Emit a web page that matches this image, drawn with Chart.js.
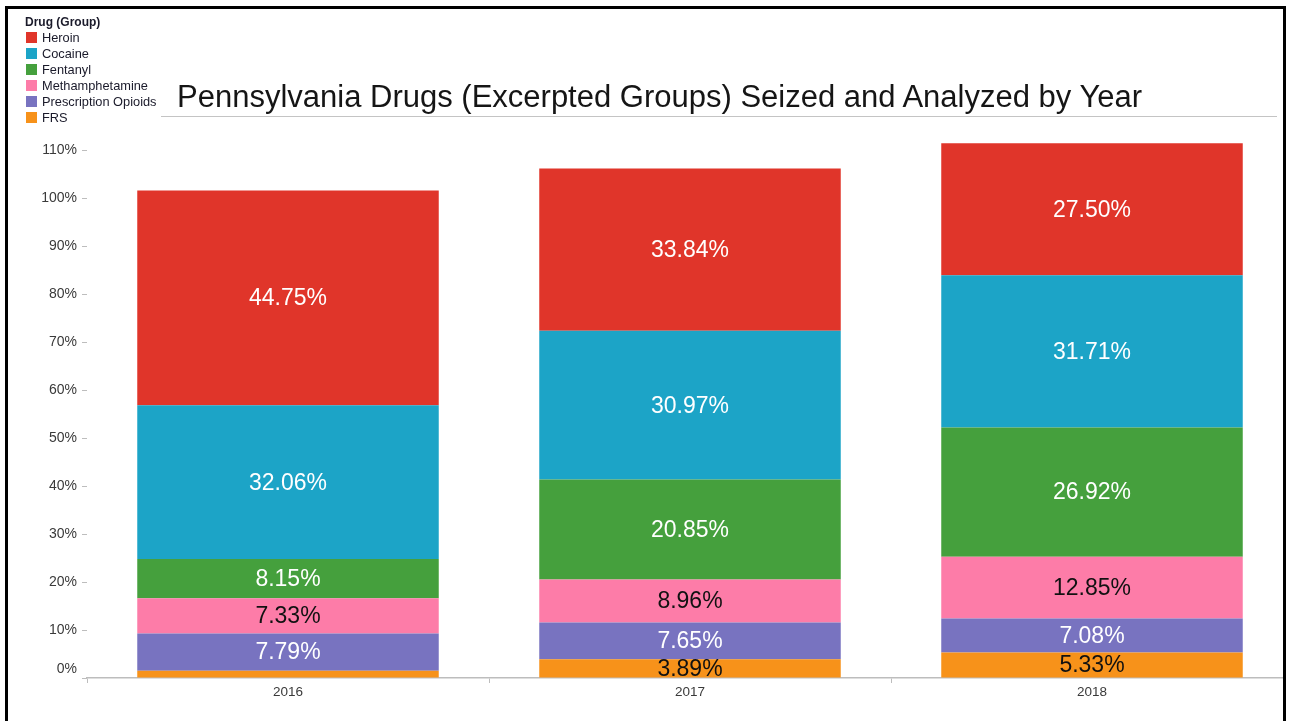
<!DOCTYPE html>
<html>
<head>
<meta charset="utf-8">
<script src="https://cdn.jsdelivr.net/npm/chart.js@4/dist/chart.umd.min.js"></script>
<style>
    html, body { margin: 0; padding: 0; background: #fff; overflow: hidden; width: 1291px; height: 721px; }
    body { position: relative; font-family: "Liberation Sans", Arial, sans-serif; }
    #frame {
        position: absolute; left: 5px; top: 6px; width: 1281px; height: 800px;
        box-sizing: border-box; border: 3px solid #000; border-bottom: none; overflow: hidden;
    }
    #chartBox { position: absolute; left: 0; top: 0; width: 1300px; height: 712px; }
    #title {
        position: absolute; left: 177px; top: 81px; font-size: 31px; line-height: 31px;
        color: #151515; white-space: nowrap;
    }
    #titleRule { position: absolute; left: 161px; top: 116px; width: 1116px; height: 1px; background: #c4c4c4; }
    #legend { position: absolute; left: 26px; top: 14px; color: #1a1a2a; }
    #legend .head { font-weight: bold; font-size: 12px; height: 16px; line-height: 16px; margin-left: -1px; }
    #legend .item { font-size: 12.8px; height: 16px; line-height: 16px; white-space: nowrap; }
    #legend .sw { display: inline-block; width: 11px; height: 11px; vertical-align: -1px; margin-right: 5px; }
</style>
</head>
<body>
<div id="frame">
    <div id="chartBox"><canvas id="drugChart" width="1300" height="712"></canvas></div>
</div>
<div id="title">Pennsylvania Drugs (Excerpted Groups) Seized and Analyzed by Year</div>
<div id="titleRule"></div>
<div id="legend"></div>

<script>
// Data (percent of drugs analyzed, by year)
const years = ['2016', '2017', '2018'];
const drugGroups = ['Heroin', 'Cocaine', 'Fentanyl', 'Methamphetamine', 'Prescription Opioids', 'FRS'];
const heroin = [44.75, 33.84, 27.50];
const cocaine = [32.06, 30.97, 31.71];
const fentanyl = [8.15, 20.85, 26.92];
const methamphetamine = [7.33, 8.96, 12.85];
const prescriptionOpioids = [7.79, 7.65, 7.08];
const frs = [1.5, 3.89, 5.33];
const yTickValues = [0, 10, 20, 30, 40, 50, 60, 70, 80, 90, 100, 110];

const groupColors = ['#e0352a', '#1ca4c7', '#45a03d', '#fd7ca8', '#7873c0', '#f7921a'];
const labelColors = ['#ffffff', '#ffffff', '#ffffff', '#111111', '#ffffff', '#111111'];
const groupValues = [heroin, cocaine, fentanyl, methamphetamine, prescriptionOpioids, frs];

// Legend (top to bottom, same order as the groups)
const legendEl = document.getElementById('legend');
legendEl.innerHTML = '<div class="head">Drug (Group)</div>' + drugGroups.map((g, i) =>
    '<div class="item"><span class="sw" style="background:' + groupColors[i] + '"></span>' + g + '</div>'
).join('');

// Stacked bottom-up: FRS first, Heroin last
const datasets = drugGroups.map((g, i) => ({
    label: g,
    data: groupValues[i],
    backgroundColor: groupColors[i],
    labelColor: labelColors[i],
    borderWidth: 0,
    categoryPercentage: 1.0,
    barPercentage: 0.75
})).reverse();

// Value labels in the middle of each segment
const segmentLabels = {
    id: 'segmentLabels',
    afterDatasetsDraw(chart) {
        const ctx = chart.ctx;
        ctx.save();
        ctx.font = '23px "Liberation Sans", Arial, sans-serif';
        ctx.textAlign = 'center';
        ctx.textBaseline = 'middle';
        chart.data.datasets.forEach((ds, di) => {
            const meta = chart.getDatasetMeta(di);
            meta.data.forEach((bar, i) => {
                const v = ds.data[i];
                if (v < 2) return;
                ctx.fillStyle = ds.labelColor;
                ctx.fillText(v.toFixed(2) + '%', bar.x, (bar.y + bar.base) / 2 + 1);
            });
        });
        ctx.restore();
    }
};

const axisGray = '#bdbdbd';
const tickText = '#3a3a3a';

new Chart(document.getElementById('drugChart'), {
    type: 'bar',
    data: { labels: years, datasets: datasets },
    plugins: [segmentLabels],
    options: {
        responsive: false,
        animation: false,
        layout: { padding: { top: 117, right: 15, left: 0, bottom: 0 } },
        plugins: {
            legend: { display: false },
            title: { display: false },
            tooltip: { enabled: false }
        },
        scales: {
            x: {
                stacked: true,
                afterFit(scale) { scale.height = 43; },
                grid: {
                    offset: true,
                    drawOnChartArea: false,
                    drawTicks: true,
                    tickLength: 5,
                    color: axisGray
                },
                border: { display: true, color: axisGray, width: 1.5 },
                ticks: {
                    color: tickText,
                    padding: 1,
                    font: { family: '"Liberation Sans", Arial, sans-serif', size: 13.5 }
                }
            },
            y: {
                stacked: true,
                min: 0,
                max: 115,
                afterFit(scale) { scale.width = 79; },
                afterBuildTicks(scale) { scale.ticks = yTickValues.map(v => ({ value: v })); },
                grid: {
                    drawOnChartArea: false,
                    drawTicks: true,
                    tickLength: 5,
                    color: axisGray
                },
                border: { display: false },
                ticks: {
                    color: tickText,
                    padding: 5,
                    font: { family: '"Liberation Sans", Arial, sans-serif', size: 14 },
                    callback: function(value) {
                        // lift the 0% label off the axis line
                        return value === 0 ? ['0%', ''] : value + '%';
                    }
                }
            }
        }
    }
});
</script>
</body>
</html>
